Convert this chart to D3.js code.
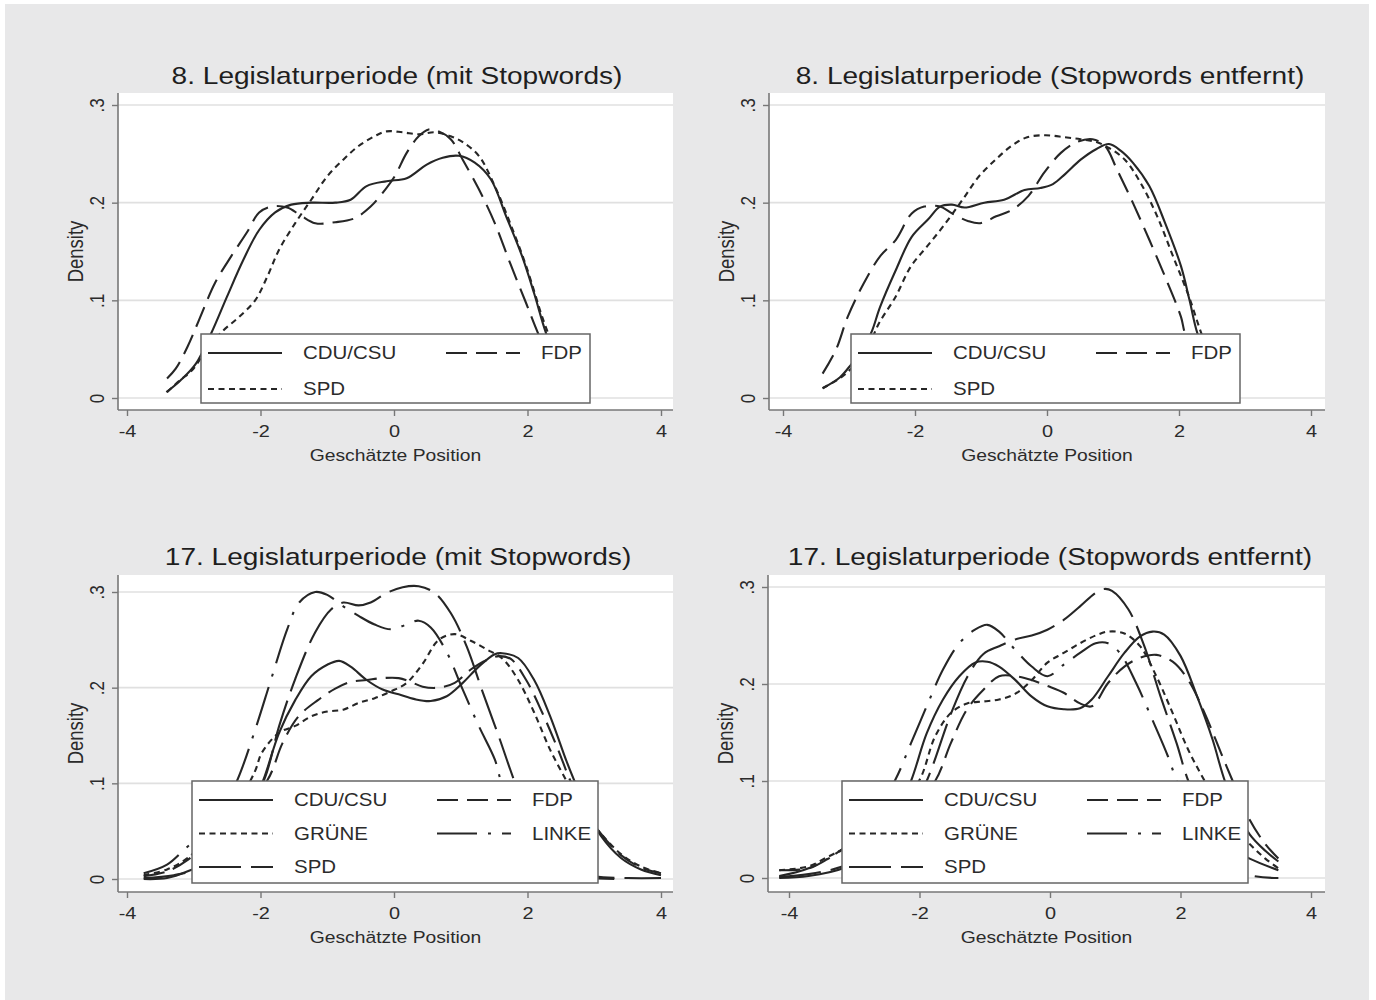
<!DOCTYPE html>
<html>
<head>
<meta charset="UTF-8">
<style>
  body { margin: 0; background: #fff; }
  svg text { font-family: "Liberation Sans", Arial, sans-serif; }
</style>
</head>
<body>
<div id="chart"></div>
<script src="https://d3js.org/d3.v7.min.js"></script>
<script>

// ---- data (x = Geschätzte Position, y = Density) ----
var xTicks = [-4, -2, 0, 2, 4];
var yTicks = [0, 0.1, 0.2, 0.3];

// 8. Legislaturperiode (mit Stopwords)
var p1_cdu = [[-3.41,0.006],[-3.2,0.018],[-2.97,0.035],[-2.74,0.066],[-2.5,0.104],[-2.26,0.141],[-2.02,0.172],[-1.78,0.19],[-1.54,0.198],[-1.24,0.2],[-0.88,0.2],[-0.65,0.203],[-0.41,0.217],[-0.11,0.222],[0.19,0.225],[0.49,0.239],[0.73,0.246],[0.97,0.248],[1.21,0.241],[1.45,0.224],[1.68,0.186],[1.92,0.145],[2.1,0.107],[2.28,0.066],[2.5,0.03],[2.75,0.008]];
var p1_fdp = [[-3.4,0.02],[-3.27,0.03],[-3.09,0.053],[-2.92,0.08],[-2.68,0.118],[-2.44,0.145],[-2.2,0.17],[-2.02,0.19],[-1.84,0.196],[-1.6,0.195],[-1.4,0.187],[-1.18,0.179],[-0.88,0.18],[-0.59,0.184],[-0.35,0.196],[-0.17,0.21],[0.01,0.227],[0.19,0.251],[0.37,0.268],[0.52,0.275],[0.67,0.273],[0.85,0.265],[1.03,0.244],[1.27,0.214],[1.51,0.179],[1.74,0.138],[1.98,0.097],[2.16,0.066],[2.4,0.03],[2.65,0.008]];
var p1_spd = [[-3.4,0.006],[-3.21,0.018],[-3.03,0.028],[-2.8,0.05],[-2.56,0.069],[-2.32,0.083],[-2.08,0.1],[-1.9,0.124],[-1.72,0.152],[-1.48,0.179],[-1.24,0.203],[-1.0,0.227],[-0.76,0.244],[-0.53,0.258],[-0.29,0.268],[-0.11,0.273],[0.13,0.272],[0.37,0.27],[0.61,0.272],[0.85,0.268],[1.03,0.262],[1.27,0.248],[1.51,0.217],[1.74,0.179],[1.98,0.135],[2.22,0.083],[2.31,0.066],[2.5,0.03],[2.75,0.008]];

// 8. Legislaturperiode (Stopwords entfernt)
var p2_cdu = [[-3.4,0.01],[-3.14,0.021],[-2.96,0.035],[-2.77,0.052],[-2.65,0.069],[-2.53,0.093],[-2.29,0.131],[-2.05,0.165],[-1.8,0.183],[-1.62,0.196],[-1.44,0.198],[-1.25,0.195],[-0.95,0.2],[-0.65,0.203],[-0.34,0.213],[-0.1,0.215],[0.09,0.219],[0.27,0.229],[0.51,0.244],[0.75,0.255],[0.94,0.26],[1.12,0.253],[1.3,0.241],[1.55,0.217],[1.79,0.179],[2.03,0.135],[2.16,0.1],[2.28,0.066],[2.5,0.03],[2.75,0.008]];
var p2_fdp = [[-3.4,0.025],[-3.2,0.049],[-3.02,0.083],[-2.78,0.117],[-2.53,0.145],[-2.29,0.162],[-2.05,0.189],[-1.86,0.196],[-1.62,0.196],[-1.44,0.189],[-1.19,0.181],[-1.01,0.179],[-0.77,0.186],[-0.52,0.193],[-0.28,0.207],[-0.04,0.231],[0.21,0.251],[0.45,0.262],[0.69,0.265],[0.88,0.258],[1.06,0.234],[1.3,0.2],[1.55,0.162],[1.79,0.124],[2.03,0.083],[2.09,0.066],[2.3,0.03],[2.6,0.008]];
var p2_spd = [[-3.4,0.01],[-3.1,0.022],[-2.9,0.035],[-2.73,0.049],[-2.55,0.076],[-2.3,0.103],[-2.06,0.135],[-1.82,0.155],[-1.57,0.176],[-1.28,0.203],[-1.03,0.227],[-0.78,0.244],[-0.54,0.258],[-0.3,0.267],[-0.02,0.269],[0.27,0.267],[0.51,0.265],[0.75,0.262],[0.94,0.256],[1.18,0.244],[1.42,0.22],[1.67,0.186],[1.91,0.145],[2.15,0.104],[2.34,0.066],[2.55,0.03],[2.8,0.008]];

// 17. Legislaturperiode (mit Stopwords)
var p3_cdu = [[-3.75,0],[-3.4,0.001],[-3.09,0.008],[-2.8,0.018],[-2.5,0.035],[-2.2,0.065],[-1.96,0.103],[-1.72,0.153],[-1.48,0.187],[-1.24,0.212],[-1.0,0.224],[-0.82,0.228],[-0.65,0.222],[-0.41,0.208],[-0.17,0.198],[0.07,0.193],[0.31,0.188],[0.55,0.186],[0.79,0.191],[1.03,0.205],[1.27,0.222],[1.51,0.235],[1.62,0.236],[1.86,0.231],[2.1,0.208],[2.34,0.17],[2.58,0.124],[2.7,0.103],[2.9,0.07],[3.1,0.045],[3.4,0.022],[3.7,0.01],[4.0,0.004]];
var p3_fdp = [[-3.75,0.003],[-3.4,0.008],[-3.09,0.02],[-2.7,0.045],[-2.3,0.075],[-1.9,0.103],[-1.67,0.142],[-1.43,0.17],[-1.14,0.187],[-0.88,0.199],[-0.65,0.206],[-0.41,0.208],[-0.17,0.21],[0.07,0.21],[0.25,0.206],[0.43,0.201],[0.67,0.2],[0.91,0.205],[1.15,0.219],[1.39,0.229],[1.57,0.233],[1.75,0.23],[1.98,0.208],[2.22,0.174],[2.46,0.135],[2.64,0.103],[2.85,0.075],[3.07,0.05],[3.4,0.025],[3.7,0.012],[4.0,0.006]];
var p3_gruene = [[-3.75,0.004],[-3.4,0.01],[-3.09,0.022],[-2.7,0.05],[-2.3,0.085],[-2.08,0.113],[-1.98,0.132],[-1.72,0.153],[-1.48,0.16],[-1.24,0.17],[-1.0,0.175],[-0.76,0.177],[-0.53,0.184],[-0.29,0.189],[-0.05,0.196],[0.19,0.205],[0.43,0.225],[0.67,0.25],[0.91,0.256],[1.15,0.249],[1.39,0.24],[1.63,0.23],[1.86,0.208],[2.1,0.174],[2.34,0.135],[2.58,0.103],[2.8,0.075],[3.07,0.05],[3.4,0.026],[3.7,0.013],[4.0,0.006]];
var p3_linke = [[-3.75,0.006],[-3.4,0.015],[-3.09,0.034],[-2.8,0.05],[-2.6,0.07],[-2.35,0.103],[-2.08,0.156],[-1.84,0.209],[-1.6,0.261],[-1.42,0.289],[-1.18,0.3],[-1.0,0.297],[-0.76,0.285],[-0.53,0.275],[-0.29,0.266],[-0.05,0.261],[0.19,0.266],[0.37,0.27],[0.55,0.263],[0.79,0.237],[1.03,0.198],[1.27,0.16],[1.51,0.125],[1.6,0.103],[1.9,0.05],[2.3,0.015],[2.8,0.003],[3.3,0]];
var p3_spd = [[-3.75,0.001],[-3.3,0.004],[-2.9,0.012],[-2.5,0.04],[-2.2,0.075],[-1.95,0.103],[-1.72,0.16],[-1.48,0.209],[-1.18,0.258],[-0.94,0.282],[-0.76,0.289],[-0.53,0.286],[-0.35,0.289],[-0.11,0.299],[0.13,0.305],[0.37,0.306],[0.61,0.299],[0.85,0.278],[1.09,0.243],[1.33,0.195],[1.57,0.149],[1.8,0.103],[2.1,0.05],[2.5,0.015],[3.0,0.003],[3.5,0.001],[4.0,0.001]];

// 17. Legislaturperiode (Stopwords entfernt)
var p4_cdu = [[-4.15,0],[-3.7,0.002],[-3.17,0.01],[-2.8,0.025],[-2.4,0.06],[-2.13,0.1],[-1.89,0.149],[-1.64,0.184],[-1.39,0.208],[-1.15,0.222],[-0.96,0.223],[-0.78,0.218],[-0.53,0.204],[-0.28,0.187],[-0.04,0.177],[0.21,0.174],[0.46,0.175],[0.64,0.184],[0.89,0.208],[1.14,0.232],[1.38,0.249],[1.57,0.254],[1.75,0.251],[2.0,0.229],[2.25,0.188],[2.49,0.143],[2.68,0.1],[2.9,0.065],[3.06,0.045],[3.3,0.028],[3.5,0.017]];
var p4_fdp = [[-4.15,0.008],[-3.7,0.01],[-3.4,0.02],[-3.17,0.03],[-2.6,0.05],[-2.1,0.075],[-1.76,0.1],[-1.52,0.139],[-1.27,0.174],[-1.02,0.194],[-0.78,0.208],[-0.53,0.208],[-0.28,0.204],[-0.04,0.198],[0.21,0.191],[0.46,0.18],[0.64,0.177],[0.89,0.201],[1.14,0.218],[1.38,0.227],[1.63,0.23],[1.88,0.223],[2.12,0.204],[2.37,0.17],[2.62,0.129],[2.8,0.1],[3.06,0.06],[3.3,0.035],[3.5,0.02]];
var p4_gruene = [[-4.15,0.008],[-3.7,0.012],[-3.4,0.022],[-3.17,0.03],[-2.6,0.055],[-2.3,0.08],[-2.01,0.1],[-1.76,0.146],[-1.52,0.17],[-1.27,0.18],[-1.02,0.182],[-0.78,0.184],[-0.53,0.19],[-0.28,0.204],[-0.04,0.222],[0.21,0.232],[0.46,0.242],[0.7,0.25],[0.89,0.254],[1.14,0.252],[1.38,0.239],[1.63,0.208],[1.88,0.17],[2.12,0.132],[2.37,0.1],[2.7,0.06],[3.06,0.035],[3.3,0.02],[3.5,0.01]];
var p4_linke = [[-4.15,0.002],[-3.7,0.01],[-3.17,0.03],[-2.8,0.055],[-2.38,0.1],[-2.13,0.139],[-1.89,0.177],[-1.64,0.215],[-1.39,0.242],[-1.15,0.256],[-0.96,0.261],[-0.78,0.254],[-0.53,0.235],[-0.28,0.218],[-0.04,0.208],[0.21,0.22],[0.46,0.232],[0.7,0.242],[0.89,0.242],[1.07,0.232],[1.32,0.201],[1.57,0.163],[1.81,0.125],[1.94,0.1],[2.2,0.055],[2.6,0.02],[3.06,0.003],[3.5,0]];
var p4_spd = [[-4.15,0.001],[-3.7,0.004],[-3.17,0.012],[-2.6,0.03],[-2.2,0.06],[-1.89,0.1],[-1.52,0.169],[-1.27,0.207],[-1.02,0.231],[-0.78,0.239],[-0.53,0.246],[-0.28,0.25],[-0.04,0.256],[0.21,0.266],[0.46,0.28],[0.7,0.294],[0.83,0.298],[0.95,0.296],[1.2,0.277],[1.44,0.24],[1.69,0.188],[1.94,0.139],[2.12,0.1],[2.4,0.06],[2.8,0.03],[3.06,0.02],[3.5,0.008]];

// ---- line styles (Stata: solid, dash, shortdash, longdash_dot, longdash) ----
var dashes = {
  solid: null,
  dash: "21,9",
  shortdash: "6,4.5",
  longdash_dot: "40,11,3,11",
  longdash: "42,10"
};

var panels = [
  {title: "8. Legislaturperiode (mit Stopwords)", left: 118, right: 673, top: 93, bottom: 410,
   xr: [127, 661], yr: [398, 105], titleX: 397, titleY: 84, leg: {x: 201, y: 334, w: 389, h: 69},
   series: [
     {name: "CDU/CSU", data: p1_cdu, dash: "solid"},
     {name: "FDP", data: p1_fdp, dash: "dash"},
     {name: "SPD", data: p1_spd, dash: "shortdash"}]},
  {title: "8. Legislaturperiode (Stopwords entfernt)", left: 769, right: 1325, top: 93, bottom: 410,
   xr: [783, 1311], yr: [398, 105], titleX: 1050, titleY: 84, leg: {x: 851, y: 334, w: 389, h: 69},
   series: [
     {name: "CDU/CSU", data: p2_cdu, dash: "solid"},
     {name: "FDP", data: p2_fdp, dash: "dash"},
     {name: "SPD", data: p2_spd, dash: "shortdash"}]},
  {title: "17. Legislaturperiode (mit Stopwords)", left: 118, right: 673, top: 575, bottom: 892,
   xr: [127, 661], yr: [879, 592], titleX: 398, titleY: 565, leg: {x: 192, y: 781, w: 406, h: 102},
   series: [
     {name: "CDU/CSU", data: p3_cdu, dash: "solid"},
     {name: "FDP", data: p3_fdp, dash: "dash"},
     {name: "GRÜNE", data: p3_gruene, dash: "shortdash"},
     {name: "LINKE", data: p3_linke, dash: "longdash_dot"},
     {name: "SPD", data: p3_spd, dash: "longdash"}]},
  {title: "17. Legislaturperiode (Stopwords entfernt)", left: 768, right: 1325, top: 575, bottom: 892,
   xr: [789, 1311], yr: [878, 587], titleX: 1050, titleY: 565, leg: {x: 842, y: 781, w: 406, h: 102},
   series: [
     {name: "CDU/CSU", data: p4_cdu, dash: "solid"},
     {name: "FDP", data: p4_fdp, dash: "dash"},
     {name: "GRÜNE", data: p4_gruene, dash: "shortdash"},
     {name: "LINKE", data: p4_linke, dash: "longdash_dot"},
     {name: "SPD", data: p4_spd, dash: "longdash"}]}
];

var W = 1376, H = 1000;
var SX = 1.17;              // the scan is a little wider than tall
var ink = "#262626";

var svg = d3.select("#chart").append("svg")
  .attr("width", W)
  .attr("height", H);

svg.append("rect")
  .attr("x", 5).attr("y", 4)
  .attr("width", W - 12).attr("height", H - 4)
  .attr("fill", "#e8e8e9");

function label(g, x, y, s, size, opts) {
  opts = opts || {};
  var t = "translate(" + x + "," + y + ") scale(" + SX + ",1)" + (opts.rotate ? " rotate(" + opts.rotate + ")" : "");
  return g.append("text")
    .attr("transform", t)
    .attr("text-anchor", opts.anchor || "middle")
    .attr("font-size", size)
    .attr("fill", opts.color || "#2b2b2b")
    .text(s);
}

var yFmt = function(d) { return d === 0 ? "0" : d3.format(".1f")(d).replace(/^0/, ""); };

panels.forEach(function(p, i) {
  var g = svg.append("g");
  var x = d3.scaleLinear().domain([-4, 4]).range(p.xr);
  var y = d3.scaleLinear().domain([0, 0.3]).range(p.yr);

  // plot region
  g.append("rect")
    .attr("x", p.left).attr("y", p.top)
    .attr("width", p.right - p.left).attr("height", p.bottom - p.top)
    .attr("fill", "#fff");

  // grid
  g.selectAll(".grid").data(yTicks).enter().append("line")
    .attr("x1", p.left).attr("x2", p.right)
    .attr("y1", function(d) { return y(d); })
    .attr("y2", function(d) { return y(d); })
    .attr("stroke", "#e0e0e0")
    .attr("stroke-width", 1.6);

  // curves
  var clipId = "clip" + i;
  g.append("clipPath").attr("id", clipId).append("rect")
    .attr("x", p.left).attr("y", p.top)
    .attr("width", p.right - p.left).attr("height", p.bottom - p.top);

  var line = d3.line()
    .x(function(d) { return x(d[0]); })
    .y(function(d) { return y(d[1]); })
    .curve(d3.curveCatmullRom.alpha(0.5));

  var cg = g.append("g").attr("clip-path", "url(#" + clipId + ")");
  p.series.forEach(function(s) {
    cg.append("path")
      .attr("d", line(s.data))
      .attr("fill", "none")
      .attr("stroke", ink)
      .attr("stroke-width", 2.1)
      .attr("stroke-dasharray", dashes[s.dash]);
  });

  // axes
  var ax = g.append("g").attr("transform", "translate(0," + p.bottom + ")")
    .call(d3.axisBottom(x).tickValues(xTicks).tickSize(6).tickPadding(9).tickFormat(d3.format("d")));
  ax.select(".domain").remove();
  ax.selectAll("line").attr("stroke", "#777").attr("stroke-width", 1.4);
  ax.selectAll("text")
    .attr("font-size", 17).attr("fill", "#2b2b2b")
    .attr("font-family", "Liberation Sans, Arial, sans-serif")
    .attr("transform", "scale(" + SX + ",1)")
    .text(function(d) { return d < 0 ? "-" + Math.abs(d) : d; });

  var ay = g.append("g").attr("transform", "translate(" + p.left + ",0)")
    .call(d3.axisLeft(y).tickValues(yTicks).tickSize(6).tickFormat(yFmt));
  ay.select(".domain").remove();
  ay.selectAll("line").attr("stroke", "#777").attr("stroke-width", 1.4);
  ay.selectAll("text")
    .attr("x", null).attr("dy", null)
    .attr("font-size", 17).attr("fill", "#2b2b2b")
    .attr("font-family", "Liberation Sans, Arial, sans-serif")
    .attr("text-anchor", "middle")
    .attr("transform", "translate(-14,0) scale(" + SX + ",1) rotate(-90)");

  g.append("line")
    .attr("x1", p.left).attr("x2", p.left)
    .attr("y1", p.top).attr("y2", p.bottom)
    .attr("stroke", "#777").attr("stroke-width", 1.6);
  g.append("line")
    .attr("x1", p.left).attr("x2", p.right)
    .attr("y1", p.bottom).attr("y2", p.bottom)
    .attr("stroke", "#777").attr("stroke-width", 1.6);

  // titles
  label(g, p.titleX, p.titleY, p.title, 24, {color: "#1e1e1e"});
  label(g, (p.left + p.right) / 2, p.bottom + 51, "Geschätzte Position", 16.5);
  label(g, p.left - 35, (p.top + p.bottom) / 2, "Density", 18.5, {rotate: -90});

  // legend
  var L = p.leg;
  g.append("rect")
    .attr("x", L.x).attr("y", L.y).attr("width", L.w).attr("height", L.h)
    .attr("fill", "#fff").attr("stroke", "#666").attr("stroke-width", 1.5);
  var rowStep = p.series.length > 3 ? 33.5 : 36;
  p.series.forEach(function(s, k) {
    var col = k % 2, row = Math.floor(k / 2);
    var cy = L.y + 19 + row * rowStep;
    var sx0 = L.x + 7 + col * 238;
    g.append("line")
      .attr("x1", sx0).attr("x2", sx0 + 74)
      .attr("y1", cy).attr("y2", cy)
      .attr("stroke", ink).attr("stroke-width", 2)
      .attr("stroke-dasharray", dashes[s.dash]);
    label(g, L.x + 102 + col * 238, cy + 6, s.name, 17.5, {anchor: "start"});
  });
});

</script>
</body>
</html>
